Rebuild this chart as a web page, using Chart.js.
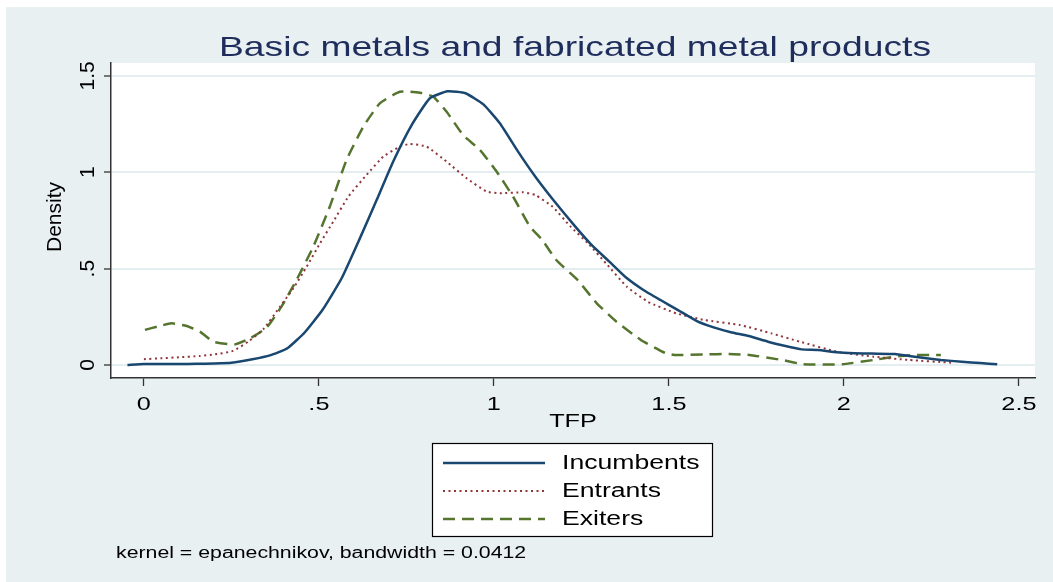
<!DOCTYPE html>
<html>
<head>
<meta charset="utf-8">
<script src="https://cdn.jsdelivr.net/npm/chart.js@4.4.1/dist/chart.umd.min.js"></script>
<style>
  html, body { margin: 0; padding: 0; background: #ffffff; }
  #c { display: block; }
</style>
</head>
<body>
<canvas id="c" width="1053" height="582"></canvas>
<script>
// Kernel density estimates of TFP by firm group
const titleText = 'Basic metals and fabricated metal products';
const xTitle = 'TFP';
const yTitle = 'Density';
const noteText = 'kernel = epanechnikov, bandwidth = 0.0412';

const xTickValues = [0, 0.5, 1, 1.5, 2, 2.5];
const xTickLabels = ['0', '.5', '1', '1.5', '2', '2.5'];
const yTickValues = [0, 0.5, 1, 1.5];
const yTickLabels = ['0', '.5', '1', '1.5'];

const seriesNames = ['Incumbents', 'Entrants', 'Exiters'];

const incumbentsX = [-0.047, 0.0, 0.05, 0.1, 0.15, 0.2, 0.25, 0.31, 0.36, 0.41, 0.46, 0.51, 0.565, 0.617, 0.665, 0.712, 0.765, 0.817, 0.868, 0.919, 0.97, 1.017, 1.069, 1.118, 1.168, 1.229, 1.279, 1.33, 1.375, 1.425, 1.476, 1.526, 1.58, 1.628, 1.677, 1.728, 1.783, 1.83, 1.879, 1.926, 1.98, 2.03, 2.08, 2.146, 2.186, 2.23, 2.277, 2.337, 2.39, 2.438];
const incumbentsY = [0.0, 0.005, 0.005, 0.005, 0.006, 0.008, 0.012, 0.03, 0.05, 0.087, 0.17, 0.285, 0.45, 0.657, 0.856, 1.055, 1.245, 1.384, 1.42, 1.41, 1.352, 1.254, 1.107, 0.978, 0.86, 0.726, 0.623, 0.536, 0.458, 0.392, 0.337, 0.285, 0.228, 0.195, 0.17, 0.15, 0.121, 0.1, 0.081, 0.078, 0.066, 0.061, 0.059, 0.057, 0.047, 0.036, 0.026, 0.017, 0.01, 0.004];

const entrantsX = [0.0, 0.05, 0.1, 0.16, 0.203, 0.255, 0.298, 0.341, 0.389, 0.427, 0.465, 0.503, 0.541, 0.584, 0.636, 0.684, 0.731, 0.76, 0.808, 0.865, 0.922, 0.979, 1.017, 1.084, 1.118, 1.168, 1.219, 1.269, 1.32, 1.38, 1.44, 1.521, 1.602, 1.702, 1.793, 1.874, 1.98, 2.085, 2.186, 2.307];
const entrantsY = [0.03, 0.035, 0.04, 0.047, 0.055, 0.073, 0.121, 0.185, 0.303, 0.398, 0.51, 0.631, 0.744, 0.873, 0.986, 1.081, 1.133, 1.147, 1.133, 1.055, 0.969, 0.9, 0.891, 0.896, 0.882, 0.821, 0.718, 0.631, 0.528, 0.406, 0.328, 0.268, 0.233, 0.208, 0.164, 0.121, 0.069, 0.043, 0.026, 0.012];

const exitersX = [0.003, 0.04, 0.079, 0.122, 0.16, 0.198, 0.26, 0.303, 0.351, 0.393, 0.436, 0.484, 0.531, 0.579, 0.627, 0.674, 0.731, 0.789, 0.827, 0.865, 0.912, 0.96, 1.008, 1.055, 1.103, 1.138, 1.178, 1.239, 1.294, 1.35, 1.42, 1.491, 1.521, 1.6, 1.672, 1.73, 1.823, 1.884, 1.995, 2.085, 2.146, 2.196, 2.277];
const exitersY = [0.182, 0.2, 0.216, 0.202, 0.173, 0.121, 0.107, 0.138, 0.195, 0.303, 0.441, 0.614, 0.821, 1.064, 1.237, 1.357, 1.418, 1.413, 1.392, 1.314, 1.193, 1.116, 1.003, 0.873, 0.718, 0.649, 0.545, 0.441, 0.32, 0.225, 0.13, 0.061, 0.052, 0.055, 0.057, 0.052, 0.026, 0.004, 0.004, 0.026, 0.043, 0.052, 0.052];

const toPoints = (xs, ys) => xs.map((x, i) => ({ x: x, y: ys[i] }));

const FONT = '"Liberation Sans", Arial, Helvetica, sans-serif';
const SX = 1.33;           // horizontal stretch for upright text
const BG = '#e8f0f2';
const GRID = '#e4edf0';

function drawText(ctx, text, x, y, size, color, align, baseline, rotate, sx) {
  ctx.save();
  ctx.translate(x, y);
  ctx.scale(sx, 1);
  if (rotate) ctx.rotate(-Math.PI / 2);
  ctx.font = size + 'px ' + FONT;
  ctx.fillStyle = color;
  ctx.textAlign = align;
  ctx.textBaseline = baseline;
  ctx.fillText(text, 0, 0);
  ctx.restore();
}

const framePlugin = {
  id: 'frame',
  beforeDraw(chart) {
    const ctx = chart.ctx;
    const a = chart.chartArea;
    ctx.save();
    ctx.fillStyle = '#ffffff';
    ctx.fillRect(0, 0, chart.width, chart.height);
    ctx.fillStyle = BG;
    ctx.fillRect(6, 7, chart.width - 6, chart.height - 7);
    ctx.fillStyle = '#ffffff';
    ctx.fillRect(a.left, a.top, a.right - a.left, a.bottom - a.top);
    ctx.restore();
  },
  afterDraw(chart) {
    const ctx = chart.ctx;
    const a = chart.chartArea;
    const xs = chart.scales.x;
    const ys = chart.scales.y;

    // title
    drawText(ctx, titleText, (a.left + a.right) / 2 + 2, 56, 28, '#1f2d5c', 'center', 'alphabetic', false, SX);

    // x tick labels and title
    xTickValues.forEach((v, i) => {
      drawText(ctx, xTickLabels[i], xs.getPixelForValue(v), 405, 19, '#000', 'center', 'middle', false, SX);
    });
    drawText(ctx, xTitle, (a.left + a.right) / 2, 422, 19, '#000', 'center', 'middle', false, SX);

    // y tick labels and title (rotated)
    yTickValues.forEach((v, i) => {
      drawText(ctx, yTickLabels[i], 88, ys.getPixelForValue(v), 21, '#000', 'center', 'middle', true, 1);
    });
    drawText(ctx, yTitle, 55, 217, 21, '#000', 'center', 'middle', true, 1);

    // legend box
    const box = { l: 432, t: 443, r: 713, b: 537 };
    ctx.save();
    ctx.fillStyle = '#ffffff';
    ctx.fillRect(box.l, box.t, box.r - box.l, box.b - box.t);
    ctx.strokeStyle = '#000000';
    ctx.lineWidth = 1.2;
    ctx.strokeRect(box.l + 0.5, box.t + 0.5, box.r - box.l - 1, box.b - box.t - 1);
    chart.data.datasets.forEach((ds, i) => {
      const y = 463 + i * 28;
      ctx.save();
      ctx.strokeStyle = ds.borderColor;
      ctx.lineWidth = ds.borderWidth;
      ctx.setLineDash(ds.borderDash || []);
      ctx.beginPath();
      ctx.moveTo(443, y);
      ctx.lineTo(545, y);
      ctx.stroke();
      ctx.restore();
      drawText(ctx, ds.label, 562, y, 20, '#000', 'left', 'middle', false, SX);
    });
    ctx.restore();

    // note
    drawText(ctx, noteText, 116, 558, 16, '#000', 'left', 'alphabetic', false, SX);
  }
};

new Chart(document.getElementById('c'), {
  type: 'scatter',
  data: {
    datasets: [
      {
        label: seriesNames[0],
        data: toPoints(incumbentsX, incumbentsY),
        borderColor: '#1a476f',
        borderWidth: 2.5,
        showLine: true,
        pointRadius: 0,
        tension: 0.15
      },
      {
        label: seriesNames[1],
        data: toPoints(entrantsX, entrantsY),
        borderColor: '#90353b',
        borderWidth: 2,
        borderDash: [2, 3.5],
        showLine: true,
        pointRadius: 0,
        tension: 0.15
      },
      {
        label: seriesNames[2],
        data: toPoints(exitersX, exitersY),
        borderColor: '#55752f',
        borderWidth: 2.5,
        borderDash: [12, 7],
        showLine: true,
        pointRadius: 0,
        tension: 0.15
      }
    ]
  },
  options: {
    responsive: false,
    animation: false,
    devicePixelRatio: 1,
    layout: { padding: { left: 0, top: 63, right: 18, bottom: 0 } },
    plugins: {
      legend: { display: false },
      title: { display: false },
      tooltip: { enabled: false }
    },
    scales: {
      x: {
        type: 'linear',
        min: -0.094,
        max: 2.546,
        afterBuildTicks: (s) => { s.ticks = xTickValues.map(v => ({ value: v })); },
        afterFit: (s) => { s.height = 582 - 378; },
        ticks: { display: false },
        grid: { drawOnChartArea: false, drawTicks: true, tickLength: 8, tickColor: '#333333', tickWidth: 1.3 },
        border: { display: true, color: '#333333', width: 1.5 }
      },
      y: {
        type: 'linear',
        min: -0.0675,
        max: 1.567,
        afterBuildTicks: (s) => { s.ticks = yTickValues.map(v => ({ value: v })); },
        afterFit: (s) => { s.width = 111; },
        ticks: { display: false },
        grid: { drawOnChartArea: true, color: GRID, lineWidth: 2, drawTicks: true, tickLength: 7, tickColor: '#333333', tickWidth: 1.3 },
        border: { display: true, color: '#333333', width: 1.5 }
      }
    }
  },
  plugins: [framePlugin]
});
</script>
</body>
</html>
